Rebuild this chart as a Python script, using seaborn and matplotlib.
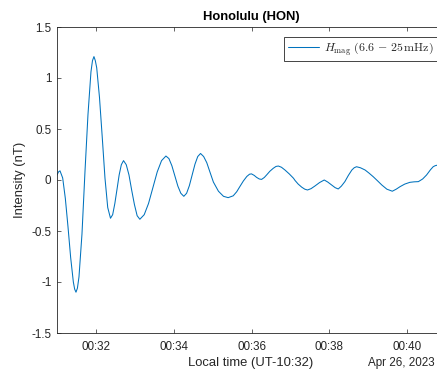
import numpy as np
import pandas as pd
import matplotlib
matplotlib.use("Agg")
import matplotlib.pyplot as plt
import matplotlib.dates as mdates
import matplotlib.ticker as mticker
import seaborn as sns

# ---- data (minutes after 00:31:00 local time, intensity in nT) ----
t_min = [0.0, 0.04, 0.077, 0.146, 0.214, 0.283, 0.351, 0.420, 0.454, 0.488,
         0.525, 0.565, 0.642, 0.719, 0.796, 0.873, 0.912, 0.95,
         0.985, 1.021, 1.092, 1.163, 1.233, 1.304, 1.375,
         1.431, 1.487, 1.543, 1.598, 1.654, 1.71,
         1.78, 1.85, 1.92, 1.99, 2.06, 2.13,
         2.242, 2.353, 2.465, 2.577, 2.688, 2.80,
         2.877, 2.953, 3.03, 3.107, 3.183, 3.26,
         3.332, 3.403, 3.475, 3.547, 3.618, 3.69,
         3.77, 3.85, 3.93, 4.02, 4.15, 4.28, 4.40,
         4.53, 4.62, 4.70, 4.79, 4.88, 4.95, 5.00, 5.07, 5.13, 5.20, 5.26,
         5.33, 5.39, 5.47, 5.56, 5.63, 5.69, 5.77, 5.86, 5.97, 6.08, 6.12,
         6.20, 6.29, 6.37, 6.44, 6.53, 6.63, 6.75, 6.87, 6.96, 7.06, 7.15,
         7.23, 7.31, 7.40, 7.49, 7.58, 7.64, 7.70, 7.80, 7.92, 8.02, 8.13,
         8.24, 8.35, 8.48, 8.62, 8.72, 8.82, 8.94, 9.07, 9.18, 9.29, 9.40,
         9.50, 9.60, 9.67, 9.72, 9.77, 9.85]
h_mag = [0.05, 0.08, 0.09, 0.02, -0.18, -0.46, -0.76, -1.00, -1.07, -1.10,
         -1.06, -0.95, -0.53, 0.08, 0.64, 1.06, 1.17, 1.21,
         1.17, 1.10, 0.81, 0.42, 0.02, -0.27, -0.375,
         -0.34, -0.23, -0.09, 0.05, 0.15, 0.19,
         0.15, 0.05, -0.10, -0.24, -0.35, -0.385,
         -0.34, -0.23, -0.075, 0.08, 0.19, 0.235,
         0.21, 0.14, 0.04, -0.06, -0.13, -0.16,
         -0.13, -0.055, 0.05, 0.155, 0.23, 0.26,
         0.23, 0.17, 0.08, -0.02, -0.11, -0.16, -0.173,
         -0.155, -0.115, -0.065, -0.01, 0.035, 0.057, 0.06, 0.045, 0.026, 0.010, 0.006,
         0.025, 0.05, 0.085, 0.115, 0.133, 0.137, 0.125, 0.098, 0.06, 0.017, -0.005,
         -0.04, -0.07, -0.09, -0.098, -0.085, -0.059, -0.025, 0.0, -0.02, -0.049, -0.075,
         -0.088, -0.06, -0.016, 0.045, 0.098, 0.12, 0.13, 0.12, 0.098, 0.068, 0.032,
         -0.008, -0.049, -0.09, -0.11, -0.09, -0.065, -0.04, -0.023, -0.018, -0.016, 0.01,
         0.049, 0.10, 0.13, 0.14, 0.145, 0.145]

y_ticks = [-1.5, -1.0, -0.5, 0.0, 0.5, 1.0, 1.5]
y_tick_labels = ["-1.5", "-1", "-0.5", "0", "0.5", "1", "1.5"]
x_tick_minutes = [32, 34, 36, 38, 40]

title = "Honolulu (HON)"
x_label = "Local time (UT-10:32)"
y_label = "Intensity (nT)"
date_label = "Apr 26, 2023"
legend_label = r"$H_{\mathrm{mag}}\ (6.6\,-\,25\,\mathrm{mHz})$"

base = pd.Timestamp("2023-04-26 00:31:00")
df = pd.DataFrame({
    "time": base + pd.to_timedelta(t_min, unit="m"),
    "H": h_mag,
})

# ---- style ----
sns.set_theme(style="ticks")
plt.rcParams["font.family"] = ["Liberation Sans", "DejaVu Sans"]
plt.rcParams["mathtext.fontset"] = "cm"
plt.rcParams["axes.unicode_minus"] = False

axc = "#262626"
line_c = "#0072BD"
W, H = 437, 371
fig = plt.figure(figsize=(W / 100, H / 100), dpi=100)
ax_l, ax_r, ax_t, ax_b = 57, 446, 27, 333
ax = fig.add_axes([ax_l / W, 1 - ax_b / H, (ax_r - ax_l) / W, (ax_b - ax_t) / H])

sns.lineplot(data=df, x="time", y="H", ax=ax, color=line_c, linewidth=0.75)

ax.set_xlim(base, base + pd.Timedelta(minutes=10))
ax.set_ylim(-1.5, 1.5)
ax.xaxis.set_major_locator(mdates.MinuteLocator(byminute=x_tick_minutes))
ax.xaxis.set_major_formatter(mdates.DateFormatter("%H:%M"))
ax.yaxis.set_major_locator(mticker.FixedLocator(y_ticks))
ax.yaxis.set_major_formatter(mticker.FixedFormatter(y_tick_labels))

for s in ["left", "bottom", "top", "right"]:
    ax.spines[s].set_visible(True)
    ax.spines[s].set_color(axc)
    ax.spines[s].set_linewidth(0.6)
ax.tick_params(direction="in", length=3, width=0.5, colors=axc,
               labelsize=8.4, top=True, right=True, pad=4)
ax.tick_params(axis="x", pad=6)

ax.set_xlabel("")
ax.set_ylabel("")
fig.text(251 / W, 1 - 363 / H, x_label, ha="center", va="center",
         fontsize=9.4, color=axc)
fig.text(20 / W, 1 - 180 / H, y_label, ha="center", va="center",
         rotation=90, fontsize=9.4, color=axc)
fig.text(435 / W, 1 - 363 / H, date_label, ha="right", va="center",
         fontsize=8.4, color=axc)
fig.text(251 / W, 1 - 17 / H, title, ha="center", va="center",
         fontsize=9.4, fontweight="bold", color="black")

line = ax.get_lines()[0]
leg = ax.legend([line], [legend_label], loc="upper right",
                bbox_to_anchor=(437 / W, 1 - 37 / H),
                bbox_transform=fig.transFigure, borderaxespad=0,
                fancybox=False, framealpha=1, edgecolor=axc, fontsize=8.6,
                handlelength=2.6, handletextpad=0.4, borderpad=0.3)
leg.get_frame().set_linewidth(0.6)
for h in leg.get_lines():
    h.set_color(line_c)
    h.set_linewidth(0.75)

fig.savefig("out.png", dpi=100)
